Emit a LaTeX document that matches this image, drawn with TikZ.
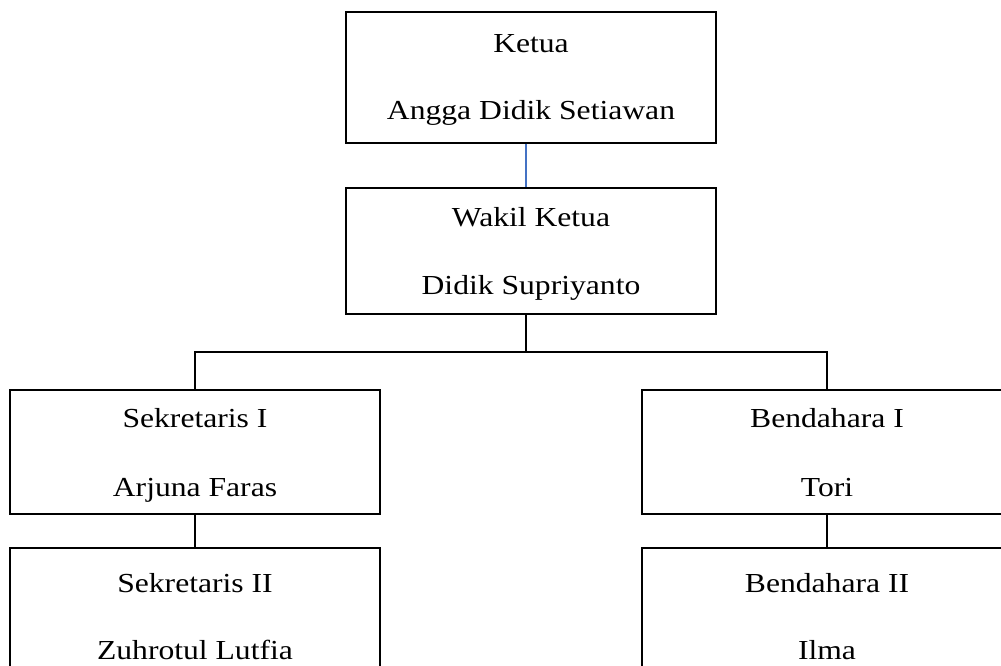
\documentclass[tikz,border=0pt]{standalone}
\usepackage{fontspec}
\setmainfont{Liberation Serif}[FakeStretch=1.15]
\definecolor{connblue}{HTML}{4472C4}
\begin{document}
\begin{tikzpicture}[x=1pt,y=1pt,
  box/.style={draw=black, line width=1.2pt, rectangle, minimum width=370pt, inner sep=0pt},
  lbl/.style={anchor=base, inner sep=0pt, font=\fontsize{27.5}{33}\selectfont},
  conn/.style={draw=black, line width=1.2pt},
  blueconn/.style={draw=connblue, line width=1.2pt}]
\useasboundingbox (0,0) rectangle (1001,-665);
\clip (0,0) rectangle (1001,-665);
% boxes
\node[box, minimum height=131pt] (ketua) at (531,-77.5) {};
\node[box, minimum height=126pt] (wakil) at (531,-251) {};
\node[box, minimum height=124pt] (sek1) at (195,-452) {};
\node[box, minimum height=131pt] (sek2) at (195,-613.5) {};
\node[box, minimum height=124pt] (bend1) at (827,-452) {};
\node[box, minimum height=131pt] (bend2) at (827,-613.5) {};
% texts
\node[lbl] (t1a) at ([yshift=-41pt]ketua.north) {Ketua};
\node[lbl] (t1b) at ([yshift=-108pt]ketua.north) {Angga Didik Setiawan};
\node[lbl] (t2a) at ([yshift=-39pt]wakil.north) {Wakil Ketua};
\node[lbl] (t2b) at ([yshift=-107pt]wakil.north) {Didik Supriyanto};
\node[lbl] (t3a) at ([yshift=-38pt]sek1.north) {Sekretaris I};
\node[lbl] (t3b) at ([yshift=-107pt]sek1.north) {Arjuna Faras};
\node[lbl] (t4a) at ([yshift=-45pt]sek2.north) {Sekretaris II};
\node[lbl] (t4b) at ([yshift=-112pt]sek2.north) {Zuhrotul Lutfia};
\node[lbl] (t5a) at ([yshift=-38pt]bend1.north) {Bendahara I};
\node[lbl] (t5b) at ([yshift=-107pt]bend1.north) {Tori};
\node[lbl] (t6a) at ([yshift=-45pt]bend2.north) {Bendahara II};
\node[lbl] (t6b) at ([yshift=-112pt]bend2.north) {Ilma};
% connectors
\draw[blueconn] ([xshift=-5pt]ketua.south) -- ([xshift=-5pt]wakil.north);
\coordinate (bar) at (526,-352);
\draw[conn] ([xshift=-5pt]wakil.south) -- (bar);
\draw[conn] (sek1.north) |- (bar) -| (bend1.north);
\draw[conn] (sek1.south) -- (sek2.north);
\draw[conn] (bend1.south) -- (bend2.north);
\end{tikzpicture}
\end{document}
